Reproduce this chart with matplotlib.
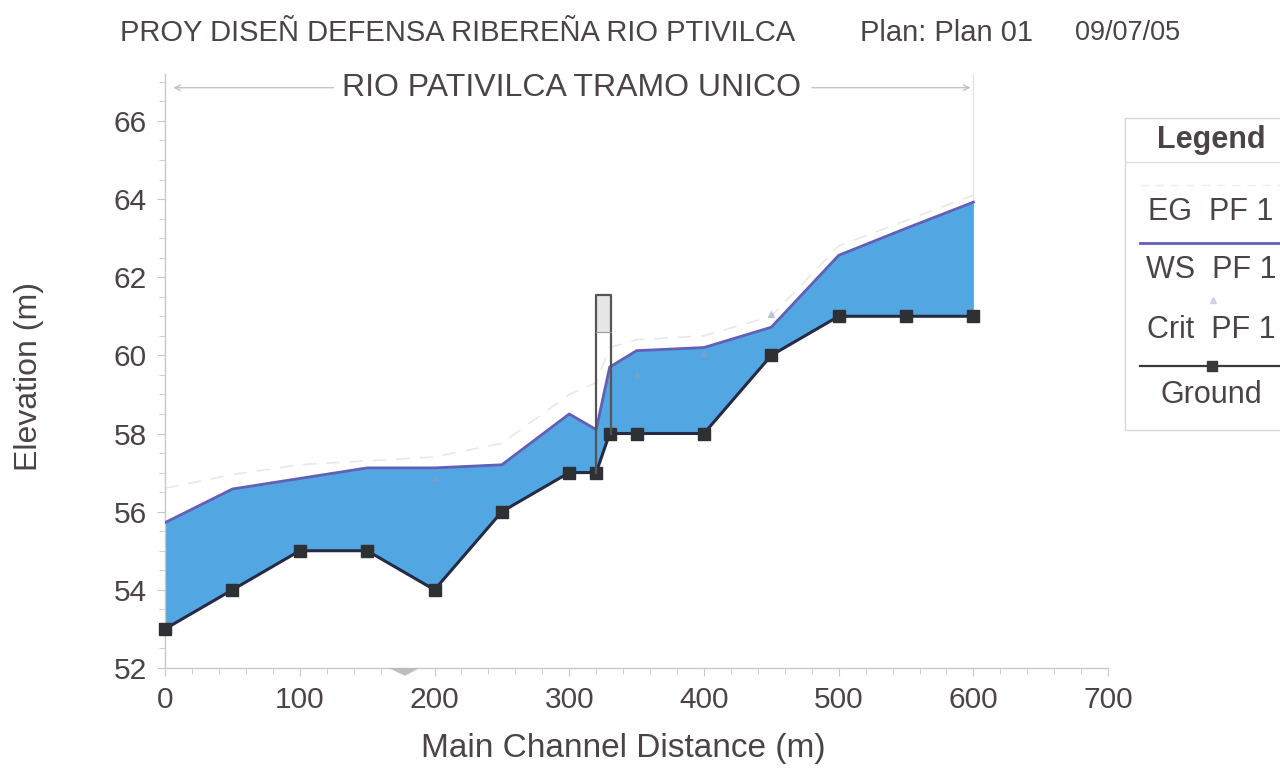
import matplotlib
matplotlib.use("Agg")
import matplotlib.pyplot as plt
from matplotlib.patches import Polygon, Rectangle

plt.rcParams['font.family'] = ['Liberation Sans', 'DejaVu Sans']

# Profile stations along the main channel (m)
distance = [0, 50, 100, 150, 200, 250, 300, 320, 330, 350, 400, 450, 500, 550, 600]
ground = [53.0, 54.0, 55.0, 55.0, 54.0, 56.0, 57.0, 57.0, 58.0, 58.0, 58.0, 60.0, 61.0, 61.0, 61.0]
ws_pf1 = [55.72, 56.58, 56.85, 57.12, 57.12, 57.2, 58.5, 58.1, 59.7, 60.12, 60.2, 60.72, 62.56, 63.25, 63.92]
eg_pf1 = [56.6, 56.95, 57.2, 57.3, 57.4, 57.75, 59.0, 59.3, 60.2, 60.4, 60.5, 61.0, 62.8, 63.45, 64.1]
crit_x = [200, 350, 400, 450]
crit_pf1 = [56.85, 59.5, 60.05, 61.05]

# Bridge at the weir section
bridge_x = [320, 331]
bridge_low = [57.0, 58.0]
bridge_deck = [60.6, 61.55]

x_ticks = [0, 100, 200, 300, 400, 500, 600, 700]
y_ticks = [52, 54, 56, 58, 60, 62, 64, 66]

txt = '#4b4347'
axis_grey = '#c8c8c8'

fig = plt.figure(figsize=(12.8, 7.74), dpi=100)
ax = fig.add_axes([0.129, 0.137, 0.7367, 0.7674])

ax.fill_between(distance, ground, ws_pf1, color='#52a6e1', zorder=2, linewidth=0)
ax.plot(distance, ws_pf1, color='#6260b6', lw=2.0, zorder=3)
ax.plot(distance, eg_pf1, color='#ece7e7', lw=1.2, ls=(0, (8, 6)), zorder=2.5)
ax.plot(crit_x, crit_pf1, ls='none', marker='^', ms=4, color='#8aa0c8', alpha=0.45, zorder=3)
ax.plot(distance, ground, color='#252b45', lw=2.2, zorder=4, clip_on=False,
        marker='s', ms=8.5, mfc='#2e3034', mec='#2e3034')

# Bridge outline with deck
x0, x1 = bridge_x
deck = Rectangle((x0, bridge_deck[0]), x1 - x0, bridge_deck[1] - bridge_deck[0],
                 facecolor='#e6e6e6', edgecolor='none', zorder=4)
ax.add_patch(deck)
ax.plot([x0, x0, x1, x1], [bridge_low[0], bridge_deck[1], bridge_deck[1], bridge_low[1]],
        color='#555555', lw=1.6, zorder=5)
ax.plot([x0, x1], [bridge_deck[0], bridge_deck[0]], color='#999999', lw=0.8, zorder=5)

# Lateral structure marker under the axis
tri = Polygon([[166, 52.0], [189, 52.0], [178, 51.8]], closed=True,
              facecolor='#bdbdbd', edgecolor='none', clip_on=False, zorder=6)
ax.add_patch(tri)

# Reach label with arrows
ax.annotate('', xy=(4, 66.85), xytext=(127, 66.85),
            arrowprops=dict(arrowstyle='->', color='#c4c4c4', lw=1.0))
ax.annotate('', xy=(600, 66.85), xytext=(478, 66.85),
            arrowprops=dict(arrowstyle='->', color='#c4c4c4', lw=1.0))
ax.text(302, 66.85, 'RIO PATIVILCA TRAMO UNICO', ha='center', va='center',
        fontsize=23, color=txt)
ax.plot([600, 600], [63.9, 67.3], color='#e4e4e4', lw=1.0, zorder=1)

ax.set_xlim(0, 700)
ax.set_ylim(52, 67.2)
ax.set_xticks(x_ticks)
ax.set_yticks(y_ticks)
ax.set_xticks(range(0, 701, 20), minor=True)
ax.set_yticks([v / 2 for v in range(104, 135)], minor=True)
for s in ['top', 'right']:
    ax.spines[s].set_visible(False)
for s in ['left', 'bottom']:
    ax.spines[s].set_color(axis_grey)
    ax.spines[s].set_linewidth(1.0)
ax.tick_params(axis='both', which='major', labelsize=21.5, labelcolor=txt,
               color=axis_grey, length=6, direction='out')
ax.tick_params(axis='both', which='minor', color=axis_grey, length=4, direction='out')
ax.tick_params(axis='x', pad=7)
ax.tick_params(axis='y', pad=7)

ax.set_xlabel('Main Channel Distance (m)', fontsize=24, color=txt)
ax.set_ylabel('Elevation (m)', fontsize=23, color=txt)
ax.xaxis.set_label_coords(0.486, -0.11)
ax.yaxis.set_label_coords(-0.128, 0.49)

fig.text(0.094, 0.958, 'PROY DISEÑ DEFENSA RIBEREÑA RIO PTIVILCA', fontsize=21,
         color=txt, va='center')
fig.text(0.672, 0.958, 'Plan: Plan 01', fontsize=21, color=txt, va='center')
fig.text(0.840, 0.958, '09/07/05', fontsize=19.5, color=txt, va='center')

# Legend panel
lx0, lx1 = 1125 / 1280, 1.0
ly_top, ly_bot = 1 - 118 / 774, 1 - 430 / 774
fig.patches.append(Rectangle((lx0, ly_bot), lx1 - lx0 + 0.01, ly_top - ly_bot,
                             transform=fig.transFigure, facecolor='white',
                             edgecolor='#d8d8d8', lw=1.0))
cx = 1211 / 1280
fig.text(cx, 1 - 140 / 774, 'Legend', fontsize=22, fontweight='bold', color=txt,
         ha='center', va='center')
fig.add_artist(plt.Line2D([lx0, 1.0], [1 - 162 / 774] * 2, transform=fig.transFigure,
                          color='#e0e0e0', lw=1.0))
fig.add_artist(plt.Line2D([1140 / 1280, 1.0], [1 - 185 / 774] * 2, transform=fig.transFigure,
                          color='#f0eded', lw=1.0, ls=(0, (6, 5))))
fig.text(cx, 1 - 212 / 774, 'EG  PF 1', fontsize=22, color=txt, ha='center', va='center')
fig.add_artist(plt.Line2D([1140 / 1280, 1.0], [1 - 243 / 774] * 2, transform=fig.transFigure,
                          color='#6260b6', lw=2.0))
fig.text(cx, 1 - 270 / 774, 'WS  PF 1', fontsize=22, color=txt, ha='center', va='center')
fig.add_artist(plt.Line2D([1213 / 1280], [1 - 300 / 774], transform=fig.transFigure,
                          ls='none', marker='^', ms=4, color='#8aa0c8', alpha=0.35))
fig.text(cx, 1 - 330 / 774, 'Crit  PF 1', fontsize=22, color=txt, ha='center', va='center')
fig.add_artist(plt.Line2D([1140 / 1280, 1.0], [1 - 366 / 774] * 2, transform=fig.transFigure,
                          color='#3a3a3a', lw=1.6))
fig.add_artist(plt.Line2D([1212 / 1280], [1 - 366 / 774], transform=fig.transFigure,
                          ls='none', marker='s', ms=7, color='#3a3a3a'))
fig.text(cx, 1 - 395 / 774, 'Ground', fontsize=22, color=txt, ha='center', va='center')

fig.savefig('out.png', dpi=100)
